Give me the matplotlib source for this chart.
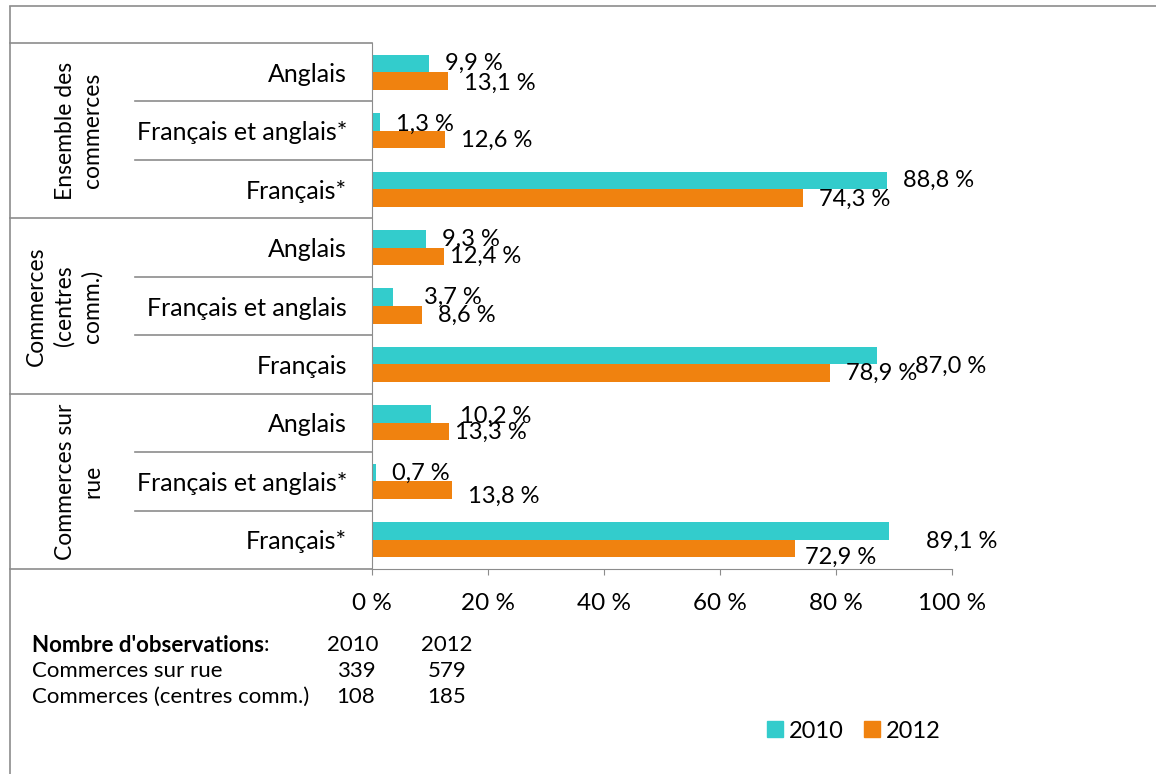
import numpy as np
import matplotlib
matplotlib.use("Agg")
import matplotlib.pyplot as plt
import matplotlib.transforms as mtransforms
from matplotlib.patches import Patch
from matplotlib.lines import Line2D

plt.rcParams['font.family'] = ['Lato', 'DejaVu Sans']

# data, top row first
groups = ["Ensemble des\ncommerces", "Commerces\n(centres\ncomm.)", "Commerces sur\nrue"]
categories = ["Anglais", "Français et anglais*", "Français*",
              "Anglais", "Français et anglais", "Français",
              "Anglais", "Français et anglais*", "Français*"]
v2010 = [9.9, 1.3, 88.8, 9.3, 3.7, 87.0, 10.2, 0.7, 89.1]
v2012 = [13.1, 12.6, 74.3, 12.4, 8.6, 78.9, 13.3, 13.8, 72.9]
years = ["2010", "2012"]
obs_rows = ["Commerces sur rue", "Commerces (centres comm.)"]
obs2010 = [339, 108]
obs2012 = [579, 185]

# label nudges in pixels (dx, dy down)
nudge2010 = [(0, 0), (0, 2), (0, 0), (0, 1), (15, 0), (22, 11), (13, 2), (0, 1), (21, 10)]
nudge2012 = [(0, 2), (0, 1), (0, 1), (-10, 0), (0, 1), (0, 0), (-10, 1), (0, 6), (-6, 9)]

c2010 = "#33CCCC"
c2012 = "#F0820F"
grey = "#8c8c8c"
W, H = 1156, 774

fig = plt.figure(figsize=(W / 100, H / 100), dpi=100)
ax = fig.add_axes([372 / W, 1 - 569 / H, 580 / W, 526 / H])

y = np.arange(len(categories))
bh = 0.3
ax.barh(y - bh / 2, v2010, height=bh, color=c2010, label=years[0])
ax.barh(y + bh / 2, v2012, height=bh, color=c2012, label=years[1])

ax.set_xlim(0, 100)
ax.set_ylim(len(categories) - 0.5, -0.5)

for i in range(len(categories)):
    for val, yy, (dx, dy) in ((v2010[i], y[i] - bh / 2, nudge2010[i]),
                              (v2012[i], y[i] + bh / 2, nudge2012[i])):
        ax.annotate(f"{val:.1f} %".replace(".", ","), xy=(val, yy),
                    xytext=(16 + dx, -dy), textcoords="offset pixels",
                    ha="left", va="center", fontsize=17, annotation_clip=False)

ax.set_xticks(np.arange(0, 101, 20))
ax.set_xticklabels([f"{t} %" for t in range(0, 101, 20)], fontsize=17.5)
ax.tick_params(axis="x", length=4.5, color=grey, pad=12.5)
ax.set_yticks(y)
ax.set_yticklabels(categories, fontsize=18)
ax.tick_params(axis="y", length=0, pad=18)
for s in ["top", "right"]:
    ax.spines[s].set_visible(False)
for s in ["left", "bottom"]:
    ax.spines[s].set_color(grey)

# table lines on the left
tr = mtransforms.blended_transform_factory(fig.transFigure, ax.transData)
x_axis = 372 / W
for k in range(len(categories) + 1):
    x0 = 10 / W if k % 3 == 0 else 135 / W
    ax.add_line(Line2D([x0, x_axis], [k - 0.5, k - 0.5], transform=tr,
                       color=grey, lw=1.2, clip_on=False))

grp_x = [79 / W, 64 / W, 79 / W]
for g, name in enumerate(groups):
    ax.text(grp_x[g], 3 * g + 1, name, transform=tr, rotation=90,
            ha="center", va="center", fontsize=16.5, multialignment="center",
            linespacing=1.35)

# outer frame (left and top)
fig.add_artist(Line2D([10 / W, 10 / W], [0, 1 - 7 / H], color=grey, lw=1.2))
fig.add_artist(Line2D([10 / W, 1], [1 - 6 / H, 1 - 6 / H], color=grey, lw=1.2))

# observations table
fs = 16
t = fig.text(32 / W, 1 - 645 / H, "Nombre d'observations", fontsize=fs,
             fontweight="bold", va="center")
ax.annotate(":", xy=(1, 0.5), xycoords=t, va="center", fontsize=fs)
fig.text(353 / W, 1 - 645 / H, years[0], fontsize=fs, ha="center", va="center")
fig.text(447 / W, 1 - 645 / H, years[1], fontsize=fs, ha="center", va="center")
for r, name in enumerate(obs_rows):
    yy = 1 - (671 + 26 * r) / H
    fig.text(32 / W, yy, name, fontsize=fs, va="center")
    fig.text(356 / W, yy, str(obs2010[r]), fontsize=fs, ha="center", va="center")
    fig.text(447 / W, yy, str(obs2012[r]), fontsize=fs, ha="center", va="center")

handles = [Patch(color=c2010, label=years[0]), Patch(color=c2012, label=years[1])]
fig.legend(handles=handles, loc="center left", bbox_to_anchor=(767 / W, 1 - 731 / H),
           ncol=2, frameon=False, fontsize=17, handlelength=0.68, handleheight=0.68,
           handletextpad=0.25, columnspacing=0.85, borderpad=0, borderaxespad=0)

fig.savefig("out.png", dpi=100)
